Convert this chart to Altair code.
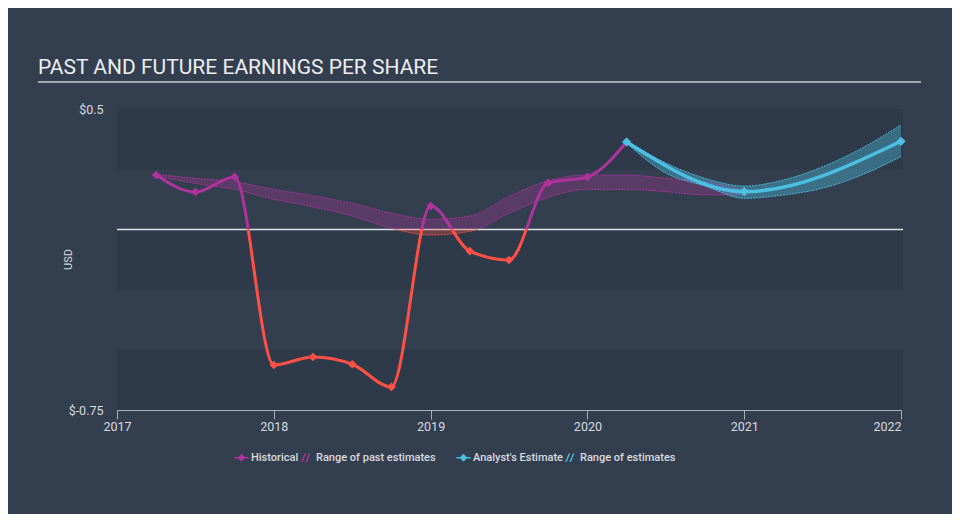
import altair as alt
import pandas as pd

# ---------------- data ----------------
hist_year = [2017.25, 2017.5, 2017.75, 2018.0, 2018.25, 2018.5, 2018.75,
             2019.0, 2019.25, 2019.5, 2019.75, 2020.0, 2020.25]
hist_eps = [0.226, 0.155, 0.218, -0.563, -0.53, -0.56, -0.654,
            0.097, -0.09, -0.127, 0.193, 0.218, 0.363]

past_year = [2017.25, 2017.5, 2017.75, 2018.0, 2018.25, 2018.5, 2018.75, 2019.0,
             2019.25, 2019.5, 2019.75, 2020.0, 2020.25, 2020.5, 2020.75, 2021.0]
past_low = [0.222, 0.191, 0.166, 0.125, 0.094, 0.056, 0.005, -0.023,
            -0.008, 0.067, 0.133, 0.166, 0.166, 0.157, 0.143, 0.145]
past_high = [0.228, 0.212, 0.198, 0.166, 0.14, 0.108, 0.067, 0.042,
             0.055, 0.136, 0.202, 0.226, 0.226, 0.212, 0.198, 0.16]

est_year = [2020.25, 2021.0, 2022.0]
est_eps = [0.363, 0.157, 0.366]

est_band_year = [2020.25, 2020.5, 2020.75, 2021.0, 2021.25, 2021.5, 2021.75, 2022.0]
est_low = [0.358, 0.234, 0.18, 0.129, 0.143, 0.171, 0.226, 0.302]
est_high = [0.368, 0.276, 0.212, 0.18, 0.205, 0.26, 0.337, 0.434]

band_top = [0.5, 0.0, -0.5]
band_bottom = [0.25, -0.25, -0.75]

x_ticks = [2017, 2018, 2019, 2020, 2021, 2022]
y_ticks = [0.5, -0.75]

hist_legend = ["Historical", "Range of past estimates"]
est_legend = ["Analyst's Estimate", "Range of estimates"]

# ---------------- style ----------------
BG = "#333f4f"
BAND = "#2e3a49"
MAG = "#b0329c"
RED = "#ff5046"
BLUE = "#4cc0e2"
TXT = "#d8dbe0"
FONT = "Roboto"
W, H = 784, 301

hist_df = pd.DataFrame({"year": hist_year, "eps": hist_eps})
past_df = pd.DataFrame({"year": past_year, "low": past_low, "high": past_high})
est_df = pd.DataFrame({"year": est_year, "eps": est_eps})
estb_df = pd.DataFrame({"year": est_band_year, "low": est_low, "high": est_high})
band_df = pd.DataFrame({"top": band_top, "bottom": band_bottom})
zero_df = pd.DataFrame({"v": [0.0]})


def split_gradient(vmax, vmin, top, bottom):
    f = vmax / (vmax - vmin) if vmax > vmin else 1.0
    f = max(0.0, min(1.0, f))
    return alt.Gradient(
        gradient="linear",
        stops=[alt.GradientStop(color=top, offset=0),
               alt.GradientStop(color=top, offset=f),
               alt.GradientStop(color=bottom, offset=f),
               alt.GradientStop(color=bottom, offset=1)],
        x1=0, x2=0, y1=0, y2=1)


xscale = alt.Scale(domain=[2017, 2022], nice=False, zero=False)
yscale = alt.Scale(domain=[-0.75, 0.5], nice=False, zero=False)

x_axis = alt.Axis(values=x_ticks, format="d", title=None, grid=False,
                  domainColor="#a9b1bc", tickColor="#a9b1bc", tickSize=9,
                  labelPadding=1, labelColor=TXT, labelFontSize=12.5, labelFont=FONT,
                  labelAlign={"condition": {"test": "datum.value == 2022", "value": "right"},
                              "value": "center"})
y_axis = alt.Axis(values=y_ticks, labelExpr="'$' + datum.value", domain=False,
                  ticks=False, grid=False, labelPadding=14, labelColor=TXT,
                  labelFontSize=12.5, labelFont=FONT, title="USD", titleColor=TXT,
                  titleFontSize=11, titleFontWeight="normal", titleFont=FONT,
                  titleX=-44, titleY=150)


def X(field):
    return alt.X(field, type="quantitative", scale=xscale, axis=x_axis)


def Y(field):
    return alt.Y(field, type="quantitative", scale=yscale, axis=y_axis)


bands = alt.Chart(band_df).mark_rect(color=BAND).encode(
    x=alt.value(0), x2=alt.value(W + 2), y=Y("top"), y2="bottom")

zero = alt.Chart(zero_df).mark_rule(color="#dfe2e6", strokeWidth=1.5).encode(
    y=Y("v"), x=alt.value(0), x2=alt.value(W + 2))

past_area = alt.Chart(past_df).mark_area(
    interpolate="monotone", fillOpacity=0.3,
    fill=split_gradient(max(past_high), min(past_low), MAG, RED)).encode(
    x=X("year"), y=Y("low"), y2="high")
past_lo_line = alt.Chart(past_df).mark_line(
    interpolate="monotone", strokeWidth=1, strokeDash=[2, 1], opacity=0.9,
    stroke=split_gradient(max(past_low), min(past_low), MAG, RED)).encode(
    x=X("year"), y=Y("low"))
past_hi_line = alt.Chart(past_df).mark_line(
    interpolate="monotone", strokeWidth=1, strokeDash=[2, 1], opacity=0.9,
    color=MAG).encode(x=X("year"), y=Y("high"))

est_area = alt.Chart(estb_df).mark_area(
    interpolate="monotone", fillOpacity=0.38, color=BLUE).encode(
    x=X("year"), y=Y("low"), y2="high")
est_lo_line = alt.Chart(estb_df).mark_line(
    interpolate="monotone", strokeWidth=1, strokeDash=[2, 1], opacity=0.9,
    color=BLUE).encode(x=X("year"), y=Y("low"))
est_hi_line = alt.Chart(estb_df).mark_line(
    interpolate="monotone", strokeWidth=1, strokeDash=[2, 1], opacity=0.9,
    color=BLUE).encode(x=X("year"), y=Y("high"))

hist_line = alt.Chart(hist_df).mark_line(
    interpolate="monotone", strokeWidth=3,
    stroke=split_gradient(max(hist_eps), min(hist_eps), MAG, RED)).encode(
    x=X("year"), y=Y("eps"))
hist_pts = alt.Chart(hist_df).mark_point(
    filled=True, shape="diamond", size=75, opacity=1).encode(
    x=X("year"), y=Y("eps"),
    color=alt.condition(alt.datum.eps >= 0, alt.value(MAG), alt.value(RED)))

est_line = alt.Chart(est_df).mark_line(
    interpolate="monotone", strokeWidth=3.5, color=BLUE).encode(
    x=X("year"), y=Y("eps"))
est_pts = alt.Chart(est_df).mark_point(
    filled=True, shape="diamond", size=85, opacity=1, color=BLUE).encode(
    x=X("year"), y=Y("eps"))

DIAMOND_LINE = "M-1,-0.09L1,-0.09L1,0.09L-1,0.09Z M0,-0.55L0.55,0L0,0.55L-0.55,0Z"
HATCH = "M-0.75,0.6L-0.25,-0.6L-0.05,-0.6L-0.55,0.6Z M-0.15,0.6L0.35,-0.6L0.55,-0.6L0.05,0.6Z"


def legend(x):
    return alt.Legend(orient="none", legendX=x, legendY=341, direction="horizontal",
                      title=None, symbolSize=200, symbolOpacity=1, symbolStrokeWidth=0,
                      columnPadding=0, labelOffset=2, labelColor=TXT, labelFontSize=11,
                      labelFontWeight=500, labelFont=FONT)


leg_a = alt.Chart(pd.DataFrame({"hist": hist_legend})).mark_point(
    filled=True, opacity=0).encode(
    x=alt.value(0), y=alt.value(0),
    color=alt.Color("hist:N", scale=alt.Scale(domain=hist_legend, range=[MAG, MAG]),
                    legend=legend(117)),
    shape=alt.Shape("hist:N", scale=alt.Scale(domain=hist_legend,
                                               range=[DIAMOND_LINE, HATCH]),
                    legend=legend(117)))
leg_b = alt.Chart(pd.DataFrame({"est": est_legend})).mark_point(
    filled=True, opacity=0).encode(
    x=alt.value(0), y=alt.value(0),
    color=alt.Color("est:N", scale=alt.Scale(domain=est_legend, range=[BLUE, BLUE]),
                    legend=legend(339)),
    shape=alt.Shape("est:N", scale=alt.Scale(domain=est_legend,
                                              range=[DIAMOND_LINE, HATCH]),
                    legend=legend(339)))

underline = alt.Chart(zero_df).mark_rule(color="#c9cdd3", strokeWidth=1.5).encode(
    x=alt.value(-79), x2=alt.value(804), y=alt.value(-27))

chart = alt.layer(
    bands, zero, past_area, past_lo_line, past_hi_line,
    est_area, est_lo_line, est_hi_line,
    hist_line, hist_pts, est_line, est_pts, underline, leg_a, leg_b
).resolve_scale(color="independent", shape="independent").properties(
    width=W, height=H,
    title=alt.TitleParams("PAST AND FUTURE EARNINGS PER SHARE", anchor="start",
                          frame="group", dx=-79, dy=20, offset=6, fontSize=21, font=FONT,
                          fontWeight="normal", color="#eceef1", baseline="alphabetic"),
    autosize=alt.AutoSizeParams(type="none"),
    padding={"left": 109, "top": 101, "right": 51, "bottom": 104},
    background=BG,
).configure_view(stroke=None)

chart.save("out.html", embed_options={"renderer": "svg", "actions": False})
